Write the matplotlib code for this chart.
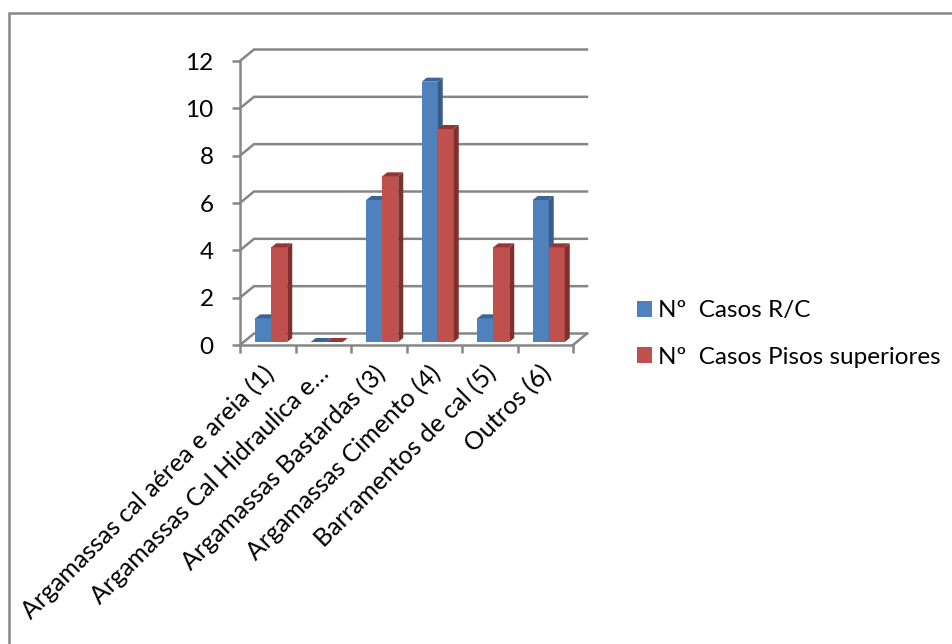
import numpy as np
import matplotlib
matplotlib.use("Agg")
import matplotlib.pyplot as plt
from matplotlib.patches import Polygon, Rectangle
from matplotlib.lines import Line2D
from matplotlib.transforms import ScaledTranslation

categories = ["Argamassas cal aérea e areia (1)", "Argamassas Cal Hidraulica e…",
              "Argamassas Bastardas (3)", "Argamassas Cimento (4)",
              "Barramentos de cal (5)", "Outros (6)"]
casos_rc = [1, 0, 6, 11, 1, 6]
casos_pisos = [4, 0, 7, 9, 4, 4]
series_names = ["Nº  Casos R/C", "Nº  Casos Pisos superiores"]
y_ticks = [0, 2, 4, 6, 8, 10, 12]

W, H = 952, 644
GRID = "#868686"
LW = 1.8

plt.rcParams["font.family"] = ["Lato", "DejaVu Sans"]
fig = plt.figure(figsize=(W / 100, H / 100), dpi=100)

# outer chart frame, only the top and left edges show
fig.add_artist(Line2D([9 / W, 9 / W, 1], [0, 1 - 13 / H, 1 - 13 / H], transform=fig.transFigure,
                      color=GRID, lw=LW, solid_joinstyle="miter"))

# front plane of the fake 3d box
ax = fig.add_axes([240 / W, 1 - 345 / H, 333 / W, 284 / H])
ax.set_xlim(0, 6)
ax.set_ylim(0, 12)
ax.patch.set_visible(False)
for s in ax.spines.values():
    s.set_visible(False)

px_x = 6 / 333
px_y = 12 / 284
wall_dx, wall_dy = 14 * px_x, 11.5 * px_y

# back wall gridlines and left wall diagonals
for v in y_ticks:
    ax.plot([0, wall_dx, 6 + wall_dx], [v, v + wall_dy, v + wall_dy], color=GRID, lw=LW,
            clip_on=False, zorder=1, solid_joinstyle="miter")
ax.plot([6, 6 + wall_dx], [0, wall_dy], color=GRID, lw=LW, clip_on=False, zorder=1)
ax.plot([0, 0], [0, 12], color=GRID, lw=LW, clip_on=False, zorder=4)
ax.plot([0, 6], [0, 0], color=GRID, lw=LW, clip_on=False, zorder=1)


def draw_bars(xs, vals, width, front, side, top):
    # front face from the axes, then side and top faces pushed back by the depth
    off_x, off_y = 3.5 * px_x, 3 * px_y
    dep_x, dep_y = 5 * px_x, 4 * px_y
    for x, v in zip(xs, vals):
        left = x - width / 2 + off_x
        right = x + width / 2 + off_x
        y0, y1 = off_y, off_y + v
        if v > 0:
            ax.bar(left, v, width, bottom=y0, align="edge", color=front, lw=0, zorder=3)
            ax.add_patch(Polygon([(right, y0), (right + dep_x, y0 + dep_y),
                                  (right + dep_x, y1 + dep_y), (right, y1)],
                                 fc=side, lw=0, zorder=3, clip_on=False))
        ax.add_patch(Polygon([(left, y1), (left + dep_x, y1 + dep_y),
                              (right + dep_x, y1 + dep_y), (right, y1)],
                             fc=top, lw=0, zorder=3, clip_on=False))


centres = np.arange(len(categories)) + 0.5
bar_w = 16 * px_x
draw_bars(centres - bar_w / 2, casos_rc, bar_w, "#4F81BD", "#385D8A", "#3C6494")
draw_bars(centres + bar_w / 2, casos_pisos, bar_w, "#C0504D", "#7F2F2D", "#943634")

ax.set_yticks(y_ticks)
ax.tick_params(axis="y", length=6, width=LW, color=GRID, labelsize=17.5, pad=13)
ax.set_xticks(np.arange(len(categories) + 1))
ax.set_xticklabels([])
ax.tick_params(axis="x", which="major", length=6, width=LW, color=GRID)
ax.set_xticks(centres, categories, minor=True)
ax.tick_params(axis="x", which="minor", length=0, labelsize=18, pad=16)
# slide the rotated labels up and left of their slot centres
shift = ScaledTranslation(-6 / 100, 6 / 100, fig.dpi_scale_trans)
for lab in ax.get_xticklabels(minor=True):
    lab.set_rotation(45)
    lab.set_ha("right")
    lab.set_rotation_mode("anchor")
    lab.set_va("top")
    lab.set_transform(lab.get_transform() + shift)

# legend
handles = [Rectangle((0, 0), 1, 1, fc="#4F81BD", lw=0), Rectangle((0, 0), 1, 1, fc="#C0504D", lw=0)]
fig.legend(handles, series_names, loc="center left", bbox_to_anchor=(637 / W, 1 - 334 / H),
           frameon=False, fontsize=17.5, handlelength=0.62, handleheight=0.62,
           handletextpad=0.25, labelspacing=1.05, borderpad=0, borderaxespad=0)

fig.savefig("out.png", dpi=100)
